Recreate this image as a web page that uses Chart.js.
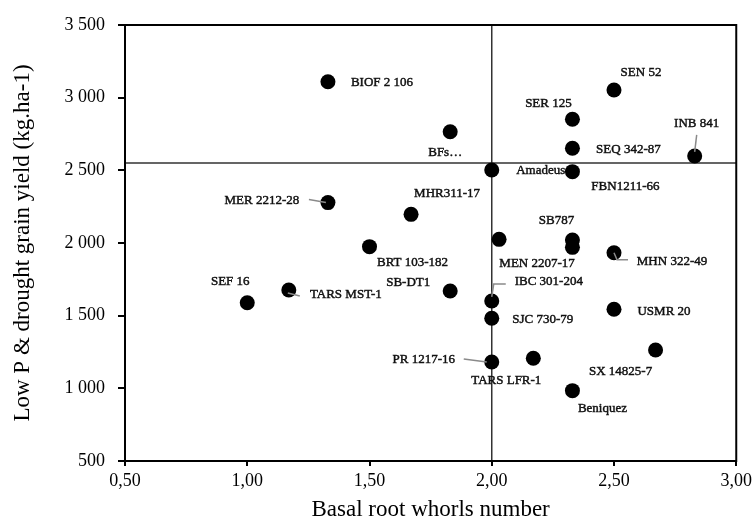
<!DOCTYPE html>
<html>
<head>
<meta charset="utf-8">
<title>Basal root whorls vs yield</title>
<script src="https://cdn.jsdelivr.net/npm/chart.js@4/dist/chart.umd.min.js"></script>
<style>
    html, body { margin: 0; padding: 0; background: #fff; }
    #chart { display: block; }
</style>
</head>
<body>
<canvas id="chart" width="756" height="524"></canvas>
<script>
// genotype names (one per point, '' = no label)
const genotypes = [
    'BIOF 2 106', 'BFs…', 'SEN 52', 'SER 125', 'SEQ 342-87',
    'FBN1211-66', 'Amadeus', 'INB 841', 'MER 2212-28', 'MHR311-17',
    'BRT 103-182', 'SB787', 'MEN 2207-17', '', 'MHN 322-49',
    'SEF 16', 'TARS MST-1', 'SB-DT1', 'IBC 301-204', 'SJC 730-79',
    'USMR 20', 'PR 1217-16', 'TARS LFR-1', 'SX 14825-7', 'Beniquez'
];

// basal root whorls number
const whorls = [
    1.33, 1.83, 2.50, 2.33, 2.33,
    2.33, 2.00, 2.83, 1.33, 1.67,
    1.50, 2.33, 2.03, 2.33, 2.50,
    1.00, 1.17, 1.83, 2.00, 2.00,
    2.50, 2.00, 2.17, 2.67, 2.33
];

// low P & drought grain yield (kg/ha)
const grainYield = [
    3110, 2765, 3053, 2851, 2652,
    2491, 2502, 2599, 2278, 2197,
    1975, 2021, 2025, 1970, 1933,
    1589, 1677, 1670, 1601, 1482,
    1544, 1181, 1207, 1264, 984
];

// means used to split the plot into quadrants
const meanWhorls = 2.00;
const meanYield = 2550;

const xTicks = [0.5, 1.0, 1.5, 2.0, 2.5, 3.0];
const yTicks = [500, 1000, 1500, 2000, 2500, 3000, 3500];

// where each name sits, in px from its point
const labelOffsets = [
    [54, 1], [-5, 21], [27, -17], [-24, -16], [56, 1],
    [53, 15], [49, 1], [2, -32], [-66, -2], [36, -21],
    [43, 16], [-16, -19], [38, 24], [0, 0], [58, 9],
    [-17, -21], [57, 5], [-42, -8], [57, -19], [51, 1],
    [50, 2], [-68, -2], [-27, 22], [-35, 22], [30, 18]
];

// short grey leader lines (px from point), keyed by point index
const leaders = {
    7: [[0, -4], [2, -21]],
    8: [[-2, 0], [-19, -3]],
    14: [[0, 0], [3, 7], [14, 7]],
    16: [[-1, 3], [11, 6]],
    18: [[0, -4], [2, -17], [14, -17]],
    21: [[-5, 0], [-28, -3]]
};

const SERIF = "'Liberation Serif', 'Times New Roman', serif";
Chart.defaults.font.family = SERIF;
Chart.defaults.color = '#000';

// frame round the plot + the two mean lines
const quadrantPlugin = {
    id: 'quadrants',
    beforeDatasetsDraw(chart) {
        const { ctx, chartArea: a, scales: { x, y } } = chart;
        ctx.save();
        ctx.strokeStyle = '#333';
        ctx.lineWidth = 1.5;
        const px = x.getPixelForValue(meanWhorls);
        const py = y.getPixelForValue(meanYield);
        ctx.beginPath();
        ctx.moveTo(px, a.top);
        ctx.lineTo(px, a.bottom);
        ctx.moveTo(a.left, py);
        ctx.lineTo(a.right, py);
        ctx.stroke();

        ctx.strokeStyle = '#000';
        ctx.lineWidth = 2;
        ctx.strokeRect(a.left, a.top, a.right - a.left, a.bottom - a.top);
        ctx.restore();
    }
};

// genotype names next to the points
const namePlugin = {
    id: 'names',
    afterDatasetsDraw(chart) {
        const { ctx } = chart;
        const pts = chart.getDatasetMeta(0).data;
        ctx.save();

        ctx.strokeStyle = '#8a8a8a';
        ctx.lineWidth = 1.5;
        Object.keys(leaders).forEach(k => {
            const p = pts[k];
            const path = leaders[k];
            ctx.beginPath();
            path.forEach(([dx, dy], j) => {
                if (j === 0) ctx.moveTo(p.x + dx, p.y + dy);
                else ctx.lineTo(p.x + dx, p.y + dy);
            });
            ctx.stroke();
        });

        // a hairline stroke gives the names a slightly heavier look
        ctx.font = '13px ' + SERIF;
        ctx.fillStyle = '#111';
        ctx.strokeStyle = '#111';
        ctx.lineWidth = 0.45;
        ctx.textAlign = 'center';
        ctx.textBaseline = 'middle';
        pts.forEach((p, i) => {
            if (!genotypes[i]) return;
            const [dx, dy] = labelOffsets[i];
            ctx.fillText(genotypes[i], p.x + dx, p.y + dy);
            ctx.strokeText(genotypes[i], p.x + dx, p.y + dy);
        });
        ctx.restore();
    }
};

const fmtThousands = v => String(v).replace(/\B(?=(\d{3})+(?!\d))/g, ' ');
const fmtDecimal = v => Number(v).toFixed(2).replace('.', ',');

new Chart(document.getElementById('chart'), {
    type: 'scatter',
    data: {
        datasets: [{
            data: whorls.map((w, i) => ({ x: w, y: grainYield[i] })),
            backgroundColor: '#000',
            borderColor: '#000',
            pointRadius: 7.5,
            pointHoverRadius: 7.5,
            borderWidth: 0
        }]
    },
    options: {
        responsive: false,
        animation: false,
        events: [],
        layout: { padding: { top: 25, right: 19, left: 0, bottom: 0 } },
        plugins: {
            legend: { display: false },
            tooltip: { enabled: false }
        },
        scales: {
            x: {
                type: 'linear',
                min: xTicks[0],
                max: xTicks[xTicks.length - 1],
                afterBuildTicks: s => { s.ticks = xTicks.map(v => ({ value: v })); },
                afterFit: s => { s.height = 63; },
                ticks: {
                    font: { size: 18 },
                    padding: 4,
                    callback: fmtDecimal
                },
                grid: { drawOnChartArea: false, tickLength: 5, color: '#000', lineWidth: 2 },
                border: { display: true, color: '#000', width: 2 },
                title: {
                    display: true,
                    text: 'Basal root whorls number',
                    font: { size: 23 },
                    padding: { top: 0, bottom: 0 }
                }
            },
            y: {
                type: 'linear',
                min: yTicks[0],
                max: yTicks[yTicks.length - 1],
                afterBuildTicks: s => { s.ticks = yTicks.map(v => ({ value: v })); },
                afterFit: s => { s.width = 125; },
                ticks: {
                    font: { size: 18 },
                    padding: 13,
                    callback: fmtThousands
                },
                grid: { drawOnChartArea: false, tickLength: 7, color: '#000', lineWidth: 2 },
                border: { display: true, color: '#000', width: 2 },
                title: {
                    display: true,
                    text: 'Low P & drought grain yield (kg.ha-1)',
                    font: { size: 23 },
                    padding: { top: 9, bottom: 0 }
                }
            }
        }
    },
    plugins: [quadrantPlugin, namePlugin]
});
</script>
</body>
</html>
